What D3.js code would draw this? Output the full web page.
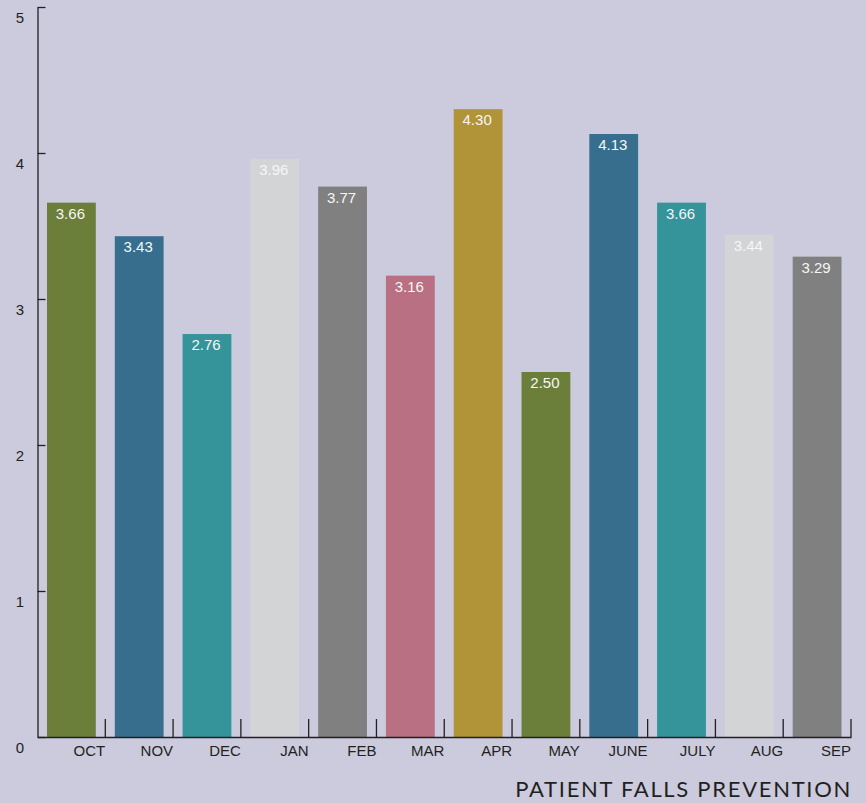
<!DOCTYPE html>
<html>
<head>
<meta charset="utf-8">
<script src="https://cdn.jsdelivr.net/npm/d3@7"></script>
<style>
	html, body { margin: 0; padding: 0; background: #cbcbdd; }
	#vizHolder { width: 866px; height: 803px; }
	.axis path, .axis line { stroke: #231f20; stroke-width: 1.3; }
	.axis text { font-family: "Liberation Sans", Arial, sans-serif; font-size: 15px; fill: #231f20; }
</style>
</head>
<body>
<div id="vizHolder"></div>
<script>
var months = ['OCT', 'NOV', 'DEC', 'JAN', 'FEB', 'MAR', 'APR', 'MAY', 'JUNE', 'JULY', 'AUG', 'SEP'];
var scores = [3.66, 3.43, 2.76, 3.96, 3.77, 3.16, 4.30, 2.50, 4.13, 3.66, 3.44, 3.29];
var barColors = ['#6b7f3a', '#376e8e', '#35939a', '#d3d4d6', '#808081', '#b87082',
	'#b09437', '#6b7f3a', '#376e8e', '#35939a', '#d3d4d6', '#808081'];
var yTicks = [0, 1, 2, 3, 4, 5];
var chartTitle = 'PATIENT FALLS PREVENTION';

var vizHolder = document.querySelector('#vizHolder'),
	width = 866,
	height = 803,
	plotLeft = 37.5,
	plotRight = 851,
	plotTop = 7,
	plotBottom = 737;

var xScale = d3.scaleBand()
	.domain(months)
	.range([plotLeft, plotRight])
	.paddingInner(0.28)
	.paddingOuter(0.14);

// same bands without padding, ticks sit on the band ends
var xAxisScale = d3.scaleBand()
	.domain(months)
	.range([plotLeft, plotRight]);

var yScale = d3.scaleLinear()
	.domain([0, 5])
	.range([plotBottom, plotTop]);

var svg = d3.select(vizHolder)
	.append('svg')
	.attr('width', width)
	.attr('height', height);

svg.append('rect')
	.attr('width', width)
	.attr('height', height)
	.attr('fill', '#cbcbdd');

//Bars
var bars = svg.append('g').attr('id', 'bars');

bars.selectAll('rect')
	.data(scores)
	.enter()
	.append('rect')
	.attr('x', function(d, i) { return xScale(months[i]); })
	.attr('y', function(d) { return yScale(d); })
	.attr('width', xScale.bandwidth())
	.attr('height', function(d) { return plotBottom - yScale(d); })
	.attr('fill', function(d, i) { return barColors[i]; });

bars.selectAll('text')
	.data(scores)
	.enter()
	.append('text')
	.attr('x', function(d, i) { return xScale(months[i]) + xScale.bandwidth() / 2 - 1; })
	.attr('y', function(d) { return yScale(d) + 16; })
	.attr('text-anchor', 'middle')
	.attr('font-family', '"Liberation Sans", Arial, sans-serif')
	.attr('font-size', 15)
	.attr('fill', '#f6f6f6')
	.text(function(d) { return d.toFixed(2); });

//Y axis
var yAxis = svg.append('g')
	.attr('class', 'y axis')
	.attr('transform', 'translate(' + plotLeft + ',0)')
	.call(d3.axisLeft(yScale).tickValues(yTicks).tickSizeInner(-8).tickSizeOuter(0).tickFormat(d3.format('d')));

yAxis.selectAll('.tick text')
	.attr('x', -17.5)
	.attr('y', 15)
	.attr('dy', 0)
	.attr('text-anchor', 'middle');

//X axis
var xAxis = svg.append('g')
	.attr('class', 'x axis')
	.attr('transform', 'translate(0,' + plotBottom + ')')
	.call(d3.axisBottom(xAxisScale).tickSizeInner(-18).tickSizeOuter(0));

xAxis.selectAll('.tick')
	.attr('transform', function(d) { return 'translate(' + (xAxisScale(d) + xAxisScale.bandwidth()) + ',0)'; });

xAxis.selectAll('.tick text')
	.attr('x', 0)
	.attr('y', 19)
	.attr('dy', 0)
	.attr('text-anchor', 'end');

//Title
svg.append('text')
	.attr('x', 852)
	.attr('y', 797)
	.attr('text-anchor', 'end')
	.attr('font-family', 'Lato, "Open Sans", sans-serif')
	.attr('font-size', 22)
	.attr('letter-spacing', 1.7)
	.attr('fill', '#231f20')
	.text(chartTitle);
</script>
</body>
</html>
